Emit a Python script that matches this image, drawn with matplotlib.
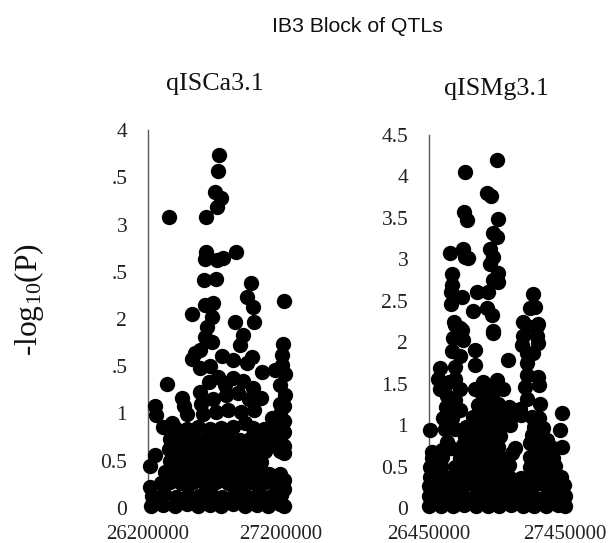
import matplotlib
matplotlib.use("Agg")
import matplotlib.pyplot as plt

plt.rcParams['font.family'] = ['Liberation Serif', 'DejaVu Serif']
plt.rcParams['mathtext.fontset'] = 'custom'
plt.rcParams['mathtext.rm'] = 'Liberation Serif'
plt.rcParams['mathtext.default'] = 'regular'

W, H = 609, 543

FIG_TITLE = "IB3 Block of QTLs"
Y_LABEL = "-log$_{10}$(P)"

ca_title = "qISCa3.1"
ca_yticks = [0, 0.5, 1, 1.5, 2, 2.5, 3, 3.5, 4]
ca_ylabels = ["0", "0.5", "1", ".5", "2", ".5", "3", ".5", "4"]
ca_xticks = [26200000, 27200000]

mg_title = "qISMg3.1"
mg_yticks = [0, 0.5, 1, 1.5, 2, 2.5, 3, 3.5, 4, 4.5]
mg_ylabels = ["0", "0.5", "1", "1.5", "2", "2.5", "3", "3.5", "4", "4.5"]
mg_xticks = [26450000, 27450000]

# (position in kb, -log10 P)
ca_upper = [
    (26736,3.74),(26729,3.57),(26704,3.34),(26747,3.28),(26716,3.19),(26360,3.08),(26636,3.08),
    (26634,2.71),(26630,2.64),(26716,2.62),(26765,2.65),(26860,2.71),(26620,2.41),(26710,2.42),
    (26974,2.38),(26947,2.23),(26990,2.13),(27225,2.19),(26530,2.05),(26630,2.15),(26690,2.17),
    (26680,2.02),(26854,1.97),(26995,1.97),(26641,1.92),(26629,1.81),(26679,1.76),(26917,1.83),
    (26892,1.72),(27213,1.74),(27205,1.62),(26553,1.64),(26528,1.58),(26591,1.67),(26591,1.48),
    (26754,1.61),(26980,1.60),(26842,1.57),(26942,1.53),(26666,1.50),(26729,1.39),(27055,1.44),
    (27230,1.42),(27155,1.46),(27205,1.51),(26340,1.31),(26591,1.23),(26453,1.16),(26779,1.30),
    (26917,1.34),(26992,1.27),(27047,1.16),(27230,1.20),(27190,1.30),(26253,1.08),(26258,0.98),
    (26378,0.90),(26315,0.86),(26490,1.00),(26600,1.10),(26690,1.15),(26790,1.20),(26880,1.22),
    (26960,1.15),(26840,1.38),(26660,1.33),(26610,1.00),(26710,1.02),(26800,1.04),(26900,1.02),
    (27000,1.04),(26470,1.08),(27190,1.10),(27225,1.08),(27195,1.00),(27225,0.92),(27180,0.88),
    (27220,0.80),(27190,0.72),(27222,0.66),(27195,0.60),(27220,0.58),
]
ca_dense = [
    (26222,0.02),(26310,0.03),(26400,0.02),(26490,0.04),(26578,0.02),(26665,0.03),(26752,0.02),
    (26840,0.04),(26930,0.02),(27018,0.03),(27105,0.02),(27195,0.04),(27222,0.02),
    (26230,0.13),(26320,0.15),(26410,0.12),(26500,0.14),(26585,0.13),(26672,0.15),(26760,0.12),
    (26848,0.14),(26936,0.13),(27025,0.15),(27112,0.12),(27200,0.14),(27224,0.20),
    (26215,0.22),(26300,0.26),(26365,0.27),(26450,0.26),(26540,0.27),(26628,0.25),(26715,0.27),
    (26800,0.26),(26890,0.25),(26975,0.27),(27065,0.26),(27150,0.25),(27220,0.30),
    (26215,0.44),(26253,0.56),(26330,0.38),(26410,0.38),(26498,0.39),(26586,0.37),(26672,0.39),
    (26760,0.38),(26848,0.39),(26936,0.37),(27025,0.39),(27112,0.36),(27195,0.36),
    (26365,0.50),(26450,0.50),(26540,0.51),(26628,0.49),(26715,0.51),(26800,0.50),(26890,0.49),
    (26975,0.51),(27050,0.49),
    (26360,0.62),(26410,0.61),(26498,0.62),(26586,0.60),(26672,0.62),(26760,0.61),(26848,0.62),
    (26936,0.60),(27025,0.62),(27080,0.60),
    (26365,0.73),(26450,0.74),(26540,0.73),(26628,0.72),(26715,0.74),(26800,0.73),(26890,0.72),
    (26975,0.74),(27060,0.73),(27130,0.70),
    (26400,0.85),(26490,0.84),(26578,0.86),(26665,0.84),(26752,0.85),(26840,0.86),(26990,0.85),
    (27070,0.84),(26930,0.90),(27135,0.82),(27130,0.95),
]

mg_upper = [
    (26948,4.20),(26717,4.05),(26874,3.80),(26904,3.76),(26708,3.57),(26727,3.47),(26960,3.49),
    (26923,3.32),(26948,3.27),(26899,3.13),(26703,3.12),(26605,3.08),(26715,3.03),(26740,3.02),
    (26923,3.03),(26899,2.94),(26960,2.83),(26923,2.75),(26960,2.73),(26622,2.82),(26617,2.69),
    (26610,2.61),(26690,2.54),(26612,2.46),(26800,2.61),(26887,2.61),(27217,2.58),(27230,2.43),
    (27193,2.41),(27144,2.25),(27254,2.22),(26771,2.38),(26874,2.41),(26916,2.33),(26634,2.25),
    (26678,2.17),(26923,2.13),(26923,2.115),(26641,2.21),(26690,2.15),(26629,2.05),(26703,2.03),
    (26789,1.91),(26617,1.89),(26789,1.73),(26678,1.83),(27034,1.79),(26531,1.69),(26519,1.56),
    (26641,1.70),(26641,1.56),(26531,1.44),(26678,1.44),(27168,2.19),(27242,2.19),(27144,2.07),
    (27242,2.07),(27132,1.97),(27254,1.99),(27168,1.87),(27217,1.87),(27168,1.75),(27254,1.58),
    (27262,1.48),(27168,1.60),(27156,1.46),(27266,1.26),(27168,1.32),(27426,1.15),(27414,0.94),
    (27426,0.74),(26458,0.94),(26470,0.68),(26948,1.54),(26850,1.52),(26789,1.44),(26997,1.44),
    (26910,1.46),(26840,1.38),(26920,1.40),(26600,1.52),(26580,1.35),(26640,1.30),(26575,1.22),
    (26640,1.20),(26555,1.08),(26620,1.08),(26675,1.18),(26565,0.95),(26640,0.95),(26585,0.80),
    (26610,0.72),
]
mg_dense = [
    (26453,0.02),(26539,0.03),(26624,0.02),(26710,0.04),(26796,0.02),(26882,0.03),(26967,0.02),
    (27053,0.04),(27139,0.02),(27225,0.03),(27310,0.02),(27396,0.04),(27450,0.02),
    (26450,0.14),(26530,0.15),(26615,0.13),(26700,0.15),(26785,0.14),(26870,0.15),(26955,0.13),
    (27040,0.15),(27125,0.14),(27215,0.15),(27300,0.13),(27385,0.15),(27447,0.14),
    (26452,0.26),(26539,0.27),(26624,0.26),(26710,0.28),(26796,0.26),(26882,0.27),(26967,0.25),
    (27053,0.27),(27139,0.26),(27225,0.28),(27310,0.26),(27396,0.27),(27440,0.28),
    (26455,0.38),(26530,0.39),(26615,0.38),(26700,0.40),(26785,0.38),(26870,0.39),(26955,0.37),
    (27040,0.38),(27125,0.36),(27215,0.40),(27300,0.38),(27385,0.39),(27420,0.38),
    (26460,0.50),(26539,0.51),(26640,0.50),(26710,0.52),(26796,0.50),(26882,0.51),(26967,0.50),
    (27040,0.52),(27190,0.50),(27225,0.52),(27310,0.50),(27380,0.51),
    (26475,0.60),(26545,0.62),(26680,0.60),(26796,0.62),(26882,0.63),(26967,0.62),(27190,0.62),
    (27225,0.62),(27300,0.62),(27360,0.60),(26740,0.65),(27060,0.66),
    (26700,0.76),(26785,0.74),(26870,0.76),(26955,0.74),(27080,0.72),(27190,0.78),(27270,0.75),
    (27345,0.73),(26545,0.70),
    (26715,0.86),(26800,0.88),(26885,0.86),(26975,0.87),(27205,0.88),(27290,0.86),(27320,0.82),
    (26720,0.98),(26800,1.00),(26885,0.98),(26970,0.99),(27045,1.00),(27220,0.98),(27285,0.96),
    (26770,1.10),(26850,1.10),(26930,1.12),(27000,1.10),(27075,1.12),(27130,1.12),(27210,1.10),(27260,1.08),
    (26810,1.24),(26880,1.24),(26960,1.25),(27040,1.22),(27120,1.20),
]

fig = plt.figure(figsize=(W / 100, H / 100), dpi=100)
AXIS_COLOR = "#595959"


def panel(x0, x1, ytop, ybot, ymax, xticks, yticks, ylabels, upper, dense):
    ax = fig.add_axes([x0 / W, 1 - ybot / H, (x1 - x0) / W, (ybot - ytop) / H])
    pts = upper + dense
    xs = [p[0] * 1000 for p in pts]
    ys = [p[1] for p in pts]
    ax.scatter(xs, ys, s=122, c="black", linewidths=0, clip_on=False, zorder=3)
    ax.set_xlim(xticks[0], xticks[1])
    ax.set_ylim(0, ymax)
    ax.set_xticks(xticks, [str(v) for v in xticks])
    ax.set_yticks(yticks, ylabels)
    ax.tick_params(axis="y", length=0, pad=15, labelsize=15.5, colors="#222222")
    ax.tick_params(axis="x", length=0, pad=12, labelsize=15, colors="#222222")
    for s in ("top", "right", "bottom"):
        ax.spines[s].set_visible(False)
    ax.spines["left"].set_color(AXIS_COLOR)
    ax.spines["left"].set_linewidth(1.0)
    return ax


panel(148, 281, 130, 508, 4, ca_xticks, ca_yticks, ca_ylabels, ca_upper, ca_dense)
panel(429, 565, 135, 508, 4.5, mg_xticks, mg_yticks, mg_ylabels, mg_upper, mg_dense)

fig.text(357.5 / W, 1 - 26 / H, FIG_TITLE, ha="center", va="center", fontsize=15.3,
         family=["Liberation Sans", "DejaVu Sans"], color="#111111")
fig.text(215 / W, 1 - 90 / H, ca_title, ha="center", va="baseline", fontsize=18.7, color="#111111")
fig.text(496 / W, 1 - 95 / H, mg_title, ha="center", va="baseline", fontsize=18.7, color="#111111")
fig.text(29 / W, 1 - 300 / H, Y_LABEL, rotation=90, ha="center", va="center", fontsize=22.7, color="#111111")

fig.savefig("out.png", dpi=100)
